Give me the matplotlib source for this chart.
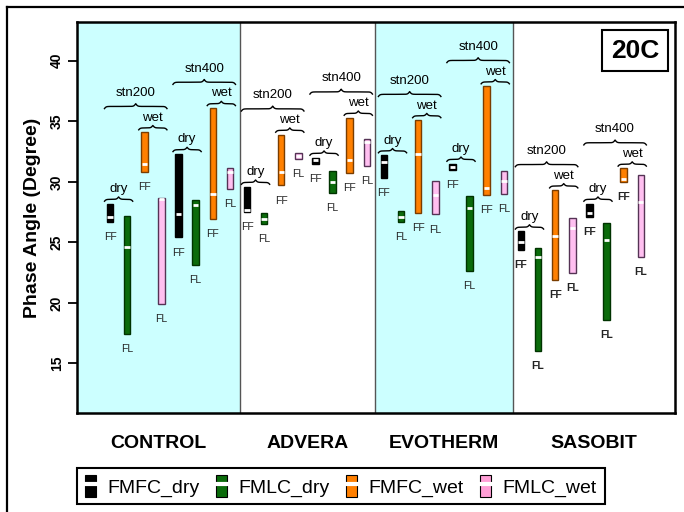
import numpy as np
import matplotlib
matplotlib.use('Agg')
import matplotlib.pyplot as plt
from matplotlib.patches import Patch, Rectangle
from matplotlib.lines import Line2D
from matplotlib.legend_handler import HandlerTuple

plt.rcParams['font.family'] = ['Liberation Sans', 'DejaVu Sans']

# Data: order within each series is additive x stn
additives = ['CONTROL', 'ADVERA', 'EVOTHERM', 'SASOBIT']
stns = ['stn200', 'stn400']
series = ['FMFC_dry', 'FMLC_dry', 'FMFC_wet', 'FMLC_wet']
short = ['FF', 'FL', 'FF', 'FL']

# [C200, C400, A200, A400, E200, E400, S200, S400]
lo = {
    'FMFC_dry': [26.7, 25.4, 27.5, 31.5, 30.3, 31.0, 24.4, 27.1],
    'FMLC_dry': [17.4, 23.1, 26.5, 29.1, 26.7, 22.6, 16.0, 18.6],
    'FMFC_wet': [30.8, 26.9, 29.7, 30.7, 27.4, 28.9, 21.9, 30.0],
    'FMLC_wet': [19.9, 29.4, 31.9, 31.3, 27.3, 29.0, 22.5, 23.8],
}
hi = {
    'FMFC_dry': [28.2, 32.3, 29.6, 32.0, 32.2, 31.5, 25.9, 28.2],
    'FMLC_dry': [27.2, 28.5, 27.4, 30.9, 27.6, 28.8, 24.5, 26.6],
    'FMFC_wet': [34.1, 36.1, 33.9, 35.3, 35.1, 37.9, 29.3, 31.1],
    'FMLC_wet': [28.7, 31.1, 32.4, 33.5, 30.1, 30.9, 27.0, 30.6],
}
med = {
    'FMFC_dry': [27.1, 27.3, 27.7, 31.8, 31.6, 31.25, 25.0, 27.4],
    'FMLC_dry': [24.6, 28.1, 26.9, 30.0, 27.1, 27.8, 23.8, 25.2],
    'FMFC_wet': [31.5, 29.0, 30.8, 31.8, 32.3, 29.5, 25.5, 30.2],
    'FMLC_wet': [28.6, 30.8, 32.15, 33.3, 28.9, 30.1, 26.2, 28.3],
}

fills = {'FMFC_dry': '#000000', 'FMLC_dry': '#0b6b0b',
         'FMFC_wet': '#ff8000', 'FMLC_wet': '#ffbff0'}
edges = {'FMFC_dry': '#000000', 'FMLC_dry': '#003300',
         'FMFC_wet': '#7a3d00', 'FMLC_wet': '#553355'}
legend_fills = {'FMFC_dry': '#000000', 'FMLC_dry': '#0b6b0b',
                'FMFC_wet': '#ff7f00', 'FMLC_wet': '#ff9fd6'}

dividers = [8.6, 16.5, 24.55]
xmin, xmax = -0.93, 34.0


def brace(ax, x0, x1, yb, h, b=18.0):
    xm = (x0 + x1) / 2
    s = lambda u: 1 / (1 + np.exp(-u))
    xs = np.linspace(x0, xm, 120)
    ys = yb + h * (s(b * (xs - x0)) - 0.5) + h * s(b * (xs - xm))
    ax.plot(np.r_[xs, 2 * xm - xs[::-1]], np.r_[ys, ys[::-1]],
            color='black', lw=1.0, solid_capstyle='butt')


fig = plt.figure(figsize=(6.84, 5.12), dpi=100)
ax = fig.add_axes([77 / 684, 1 - 413 / 512, 598 / 684, 391 / 512])

# panel backgrounds
edges_x = [xmin] + dividers + [xmax]
for i in range(4):
    if i % 2 == 0:
        ax.axvspan(edges_x[i], edges_x[i + 1], color='#ccffff', lw=0, zorder=0)
for d in dividers:
    ax.axvline(d, color='#555555', lw=1, zorder=1)

bw = 0.38
for g, add in enumerate(additives):
    for k, stn in enumerate(stns):
        idx = g * 2 + k
        texts = []
        for pair in range(2):
            xs_pair = []
            tops = []
            for j in range(2):
                si = pair * 2 + j
                name = series[si]
                x = g * 8 + k * 4 + si + 1
                l, h_, m = lo[name][idx], hi[name][idx], med[name][idx]
                ax.bar(x, h_ - l, bottom=l, width=bw, color=fills[name],
                       edgecolor=edges[name], lw=1, zorder=3)
                ax.plot([x - bw / 2 + 0.03, x + bw / 2 - 0.03], [m, m],
                        color='white', lw=2, zorder=4, solid_capstyle='butt')
                ax.text(x, l - 1.25, short[si], ha='center', va='center',
                        fontsize=7.5, color='#222222',
                        fontweight='bold' if add == 'SASOBIT' else 'normal')
                xs_pair.append(x)
                tops.append(h_)
            top = max(tops)
            brace(ax, xs_pair[0] - 0.35, xs_pair[1] + 0.35, top + 0.15, 0.4)
            ty = top + 1.2
            ax.text(np.mean(xs_pair), ty, ['dry', 'wet'][pair], ha='center',
                    va='center', fontsize=9.5)
            texts.append(ty)
        x0 = g * 8 + k * 4 + 1
        yb = max(texts) + 0.7
        brace(ax, x0 - 0.35, x0 + 3 + 0.35, yb, 0.45)
        ax.text(x0 + 1.5, yb + 1.35, stn, ha='center', va='center', fontsize=9.5)

ax.set_xlim(xmin, xmax)
ax.set_ylim(10.9, 43.2)
ax.set_yticks([15, 20, 25, 30, 35, 40])
ax.tick_params(axis='y', labelrotation=90, length=6.5, width=1.3, pad=3)
for t in ax.get_yticklabels():
    t.set_fontweight('bold')
    t.set_fontsize(10)
    t.set_va('center')
centers = [(edges_x[i] + edges_x[i + 1]) / 2 for i in range(4)]
ax.set_xticks(centers)
ax.set_xticklabels(additives, fontsize=14, fontweight='bold')
ax.tick_params(axis='x', length=0, pad=16)
ax.set_ylabel('Phase Angle (Degree)', fontsize=14, fontweight='bold', labelpad=6)
for sp in ax.spines.values():
    sp.set_linewidth(1.8)
    sp.set_zorder(5)

# 20C box
ax.add_patch(Rectangle((0.878, 0.8747), 0.110, 0.1048, transform=ax.transAxes,
                       facecolor='white', edgecolor='black', lw=1.5, zorder=6))
ax.text(0.933, 0.927, '20C', transform=ax.transAxes, ha='center', va='center',
        fontsize=19, fontweight='bold', zorder=7)

# outer frame (left and top only visible)
fig.add_artist(Line2D([7 / 684, 7 / 684], [0, 1 - 7 / 512], color='black', lw=1.6))
fig.add_artist(Line2D([7 / 684, 1], [1 - 7 / 512, 1 - 7 / 512], color='black', lw=1.6))

handles = [(Patch(facecolor=legend_fills[s], edgecolor='black', lw=0.8),
            Line2D([], [], color='white', lw=3)) for s in series]
leg = fig.legend(handles, series, loc='center', bbox_to_anchor=(341 / 684, 1 - 486 / 512),
                 ncol=4, fontsize=14, handlelength=0.55, handleheight=1.3,
                 handletextpad=0.6, columnspacing=0.85, borderpad=0.4,
                 fancybox=False, framealpha=1,
                 handler_map={tuple: HandlerTuple(ndivide=1)})
leg.get_frame().set_edgecolor('black')
leg.get_frame().set_linewidth(1.5)

fig.savefig('out.png', dpi=100)
